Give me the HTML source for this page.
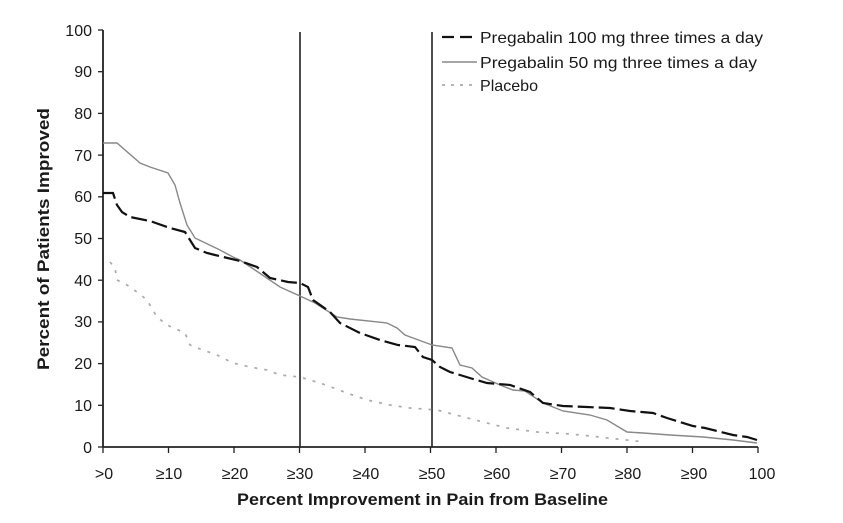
<!DOCTYPE html>
<html><head><meta charset="utf-8"><style>
html,body{margin:0;padding:0;background:#fff;}
svg{display:block;}
text{font-family:"Liberation Sans",Arial,sans-serif;fill:#1a1a1a;}
</style></head><body>
<svg width="843" height="523" viewBox="0 0 843 523" xmlns="http://www.w3.org/2000/svg">
<rect width="843" height="523" fill="#fff"/>
<!-- axes -->
<line x1="103" y1="30" x2="103" y2="447" stroke="#222" stroke-width="1.8"/>
<line x1="103" y1="447" x2="758" y2="447" stroke="#222" stroke-width="1.8"/>
<!-- y ticks -->
<g stroke="#222" stroke-width="1.3">
<line x1="98" y1="30" x2="103" y2="30"/><line x1="98" y1="71.7" x2="103" y2="71.7"/>
<line x1="98" y1="113.4" x2="103" y2="113.4"/><line x1="98" y1="155.1" x2="103" y2="155.1"/>
<line x1="98" y1="196.8" x2="103" y2="196.8"/><line x1="98" y1="238.5" x2="103" y2="238.5"/>
<line x1="98" y1="280.2" x2="103" y2="280.2"/><line x1="98" y1="321.9" x2="103" y2="321.9"/>
<line x1="98" y1="363.6" x2="103" y2="363.6"/><line x1="98" y1="405.3" x2="103" y2="405.3"/>
<line x1="98" y1="447" x2="103" y2="447"/>
</g>
<!-- x ticks -->
<g stroke="#222" stroke-width="1.3">
<line x1="103" y1="447" x2="103" y2="453"/><line x1="168.5" y1="447" x2="168.5" y2="453"/>
<line x1="234" y1="447" x2="234" y2="453"/><line x1="299.5" y1="447" x2="299.5" y2="453"/>
<line x1="365" y1="447" x2="365" y2="453"/><line x1="430.5" y1="447" x2="430.5" y2="453"/>
<line x1="496" y1="447" x2="496" y2="453"/><line x1="561.5" y1="447" x2="561.5" y2="453"/>
<line x1="627" y1="447" x2="627" y2="453"/><line x1="692.5" y1="447" x2="692.5" y2="453"/>
<line x1="758" y1="447" x2="758" y2="453"/>
</g>
<!-- y labels -->
<g font-size="16" text-anchor="end">
<text x="92" y="36">100</text><text x="92" y="77">90</text><text x="92" y="119">80</text>
<text x="92" y="161">70</text><text x="92" y="202">60</text><text x="92" y="244">50</text>
<text x="92" y="286">40</text><text x="92" y="327">30</text><text x="92" y="369">20</text>
<text x="92" y="411">10</text><text x="92" y="453">0</text>
</g>
<!-- x labels -->
<g font-size="16" text-anchor="middle">
<text x="104" y="479">&gt;0</text><text x="169" y="479">≥10</text><text x="235" y="479">≥20</text>
<text x="300" y="479">≥30</text><text x="366" y="479">≥40</text><text x="432" y="479">≥50</text>
<text x="497" y="479">≥60</text><text x="563" y="479">≥70</text><text x="628" y="479">≥80</text>
<text x="694" y="479">≥90</text><text x="762" y="479">100</text>
</g>
<!-- axis titles -->
<text x="237" y="505" font-size="17" font-weight="bold" fill="#111" textLength="371" lengthAdjust="spacingAndGlyphs">Percent Improvement in Pain from Baseline</text>
<text transform="translate(49,370) rotate(-90)" font-size="17" font-weight="bold" fill="#111" textLength="262" lengthAdjust="spacingAndGlyphs">Percent of Patients Improved</text>
<!-- reference lines -->
<line x1="300" y1="32" x2="300" y2="447" stroke="#222" stroke-width="1.6"/>
<line x1="432" y1="32" x2="432" y2="447" stroke="#222" stroke-width="1.6"/>
<!-- placebo -->
<polyline fill="none" stroke="#aaa" stroke-width="1.7" stroke-dasharray="3,7" points="110,262 115,268 117,280 127,285 137,292 147,300 157,317 167,325 185,333 190,345 200,349 217,355 233,363 250,367 267,370 280,375 300,377 323,384 347,393 367,400 390,405 410,408 437,410 460,416 483,422 507,428 537,432 570,434 590,436 617,439 645,442"/>
<!-- 50 mg gray -->
<polyline fill="none" stroke="#888" stroke-width="1.4" points="103,143 117,143 125,150 140,163 150,167 168,173 175,185 180,203 187,225 195,238 220,250 233,257 240,260 255,270 280,287 300,296 315,303 337,317 350,319 387,323 397,328 405,335 432,345 452,348 460,365 472,368 482,377 500,385 513,390 525,391 543,403 563,411 590,415 607,420 627,432 643,433 670,435 703,437 733,440 757,443"/>
<!-- 100 mg black dashed -->
<polyline fill="none" stroke="#111" stroke-width="2.2" stroke-dasharray="16,5" points="103,193 113,193 117,205 122,212 130,217 150,221 170,228 185,232 195,248 207,253 215,255 240,261 257,267 270,278 288,282 300,283 308,287 313,300 330,312 340,323 360,333 380,340 398,345 415,347 423,357 432,360 440,367 450,372 460,375 473,379 487,383 510,385 530,392 543,403 563,406 587,407 610,408 630,411 653,413 667,418 680,422 693,426 705,428 733,435 747,437 757,440"/>
<!-- legend -->
<line x1="442" y1="37" x2="476" y2="37" stroke="#111" stroke-width="2.2" stroke-dasharray="12,6"/>
<line x1="442" y1="62" x2="477" y2="62" stroke="#888" stroke-width="1.4"/>
<line x1="442" y1="85" x2="477" y2="85" stroke="#aaa" stroke-width="1.7" stroke-dasharray="3,6"/>
<g font-size="16">
<text x="480" y="43" textLength="283" lengthAdjust="spacingAndGlyphs">Pregabalin 100 mg three times a day</text>
<text x="480" y="68" textLength="277" lengthAdjust="spacingAndGlyphs">Pregabalin 50 mg three times a day</text>
<text x="480" y="91" textLength="58" lengthAdjust="spacingAndGlyphs">Placebo</text>
</g>
</svg>
</body></html>
